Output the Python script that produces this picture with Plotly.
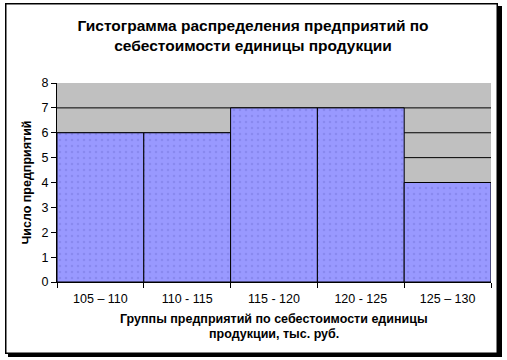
import plotly.graph_objects as go

categories = ["105 – 110", "110 - 115", "115 - 120", "120 - 125", "125 – 130"]
counts = [6, 6, 7, 7, 4]
y_ticks = [0, 1, 2, 3, 4, 5, 6, 7, 8]
x_title_lines = ["Группы предприятий по себестоимости единицы", "продукции, тыс. руб."]

W, H = 507, 360
L, R, T, B = 57, 16, 83, 78
pw, ph = W - L - R, H - T - B

def px_x(x):
    return (x - L) / pw

def px_y(y):
    return (H - B - y) / ph

def prect(x0, y0, x1, y1, color):
    return dict(type="rect", xref="paper", yref="paper",
                x0=px_x(x0), x1=px_x(x1), y0=px_y(y1), y1=px_y(y0),
                line=dict(width=0), fillcolor=color, layer="below")

xs = list(range(len(categories)))

fig = go.Figure()
fig.add_trace(go.Bar(
    x=xs, y=counts, width=1.0,
    marker=dict(color="#9999FF", line=dict(color="black", width=1),
                pattern=dict(shape=".", fgcolor="#7A7AE0", bgcolor="#9999FF", size=6, solidity=0.15)),
    hoverinfo="skip",
))

shapes = []
# chart frame: shadow, border, white inside
shapes.append(prect(8, 6, 502, 357, "black"))
shapes.append(prect(5, 3, 498, 354, "black"))
shapes.append(prect(6.5, 4.5, 496.5, 352.5, "white"))
# plot background
shapes.append(dict(type="rect", xref="x", yref="y", x0=-0.5, x1=len(categories) - 0.5,
                   y0=0, y1=8, line=dict(width=0), fillcolor="#C0C0C0", layer="below"))
# gridlines
for v in y_ticks[1:-1]:
    shapes.append(dict(type="line", xref="x", yref="y", x0=-0.5, x1=len(categories) - 0.5,
                       y0=v, y1=v, line=dict(color="black", width=1), layer="below"))

annotations = []
for i, (txt, ypix) in enumerate(zip(x_title_lines, [319, 334])):
    annotations.append(dict(text=f"<b>{txt}</b>", xref="paper", yref="paper",
                            x=px_x(274), y=px_y(ypix), xanchor="center", yanchor="middle",
                            showarrow=False, font=dict(size=12.5)))

fig.update_layout(
    width=W, height=H,
    margin=dict(l=L, r=R, t=T, b=B, autoexpand=False),
    paper_bgcolor="white", plot_bgcolor="rgba(0,0,0,0)",
    showlegend=False,
    font=dict(family="Liberation Sans, Arial, sans-serif", color="black", size=12),
    shapes=shapes,
    annotations=annotations,
    title=dict(text="<b>Гистограмма распределения предприятий по<br>себестоимости единицы продукции</b>",
               x=px_x(253), xanchor="center", xref="paper",
               y=1 - 31 / H, yanchor="middle", yref="container",
               font=dict(size=15.5, family="Liberation Sans, Arial, sans-serif")),
    xaxis=dict(range=[-0.5, len(categories) - 0.5], tickvals=xs, ticktext=categories,
               ticks="", showgrid=False, showline=True, linecolor="black", linewidth=1,
               zeroline=False, tickfont=dict(size=12.5), automargin=False, ticklabelstandoff=5,
               minor=dict(tickvals=[i - 0.5 for i in range(len(categories) + 1)],
                          ticks="outside", ticklen=5, tickcolor="black", showgrid=False)),
    yaxis=dict(range=[0, 8], tickvals=y_ticks, ticks="outside", ticklen=5, tickcolor="black",
               showgrid=False, showline=True, linecolor="black", linewidth=1, zeroline=False,
               tickfont=dict(size=12.5), automargin=False,
               title=dict(text="<b>Число предприятий</b>", standoff=7, font=dict(size=12.5))),
)

fig.write_html("out.html", config={"displayModeBar": False},
               post_script="document.body.style.margin='0px';")
